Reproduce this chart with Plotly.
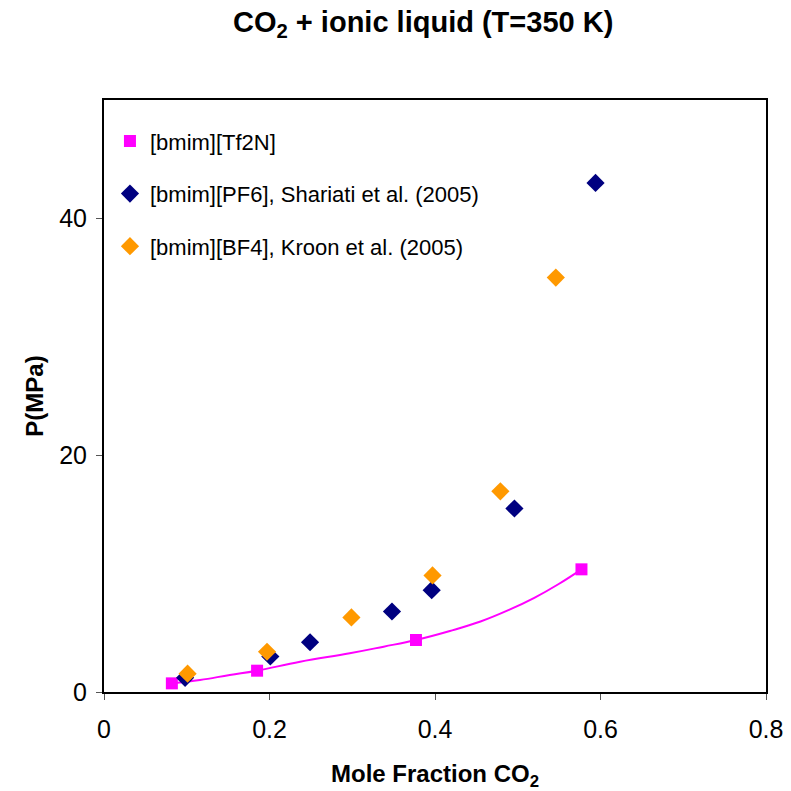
import plotly.graph_objects as go

# Data
tf2n_x = [0.082, 0.185, 0.377, 0.577]
tf2n_y = [0.73, 1.80, 4.39, 10.36]

# model curve through the [bmim][Tf2N] points
curve_x = [0.082, 0.116, 0.152, 0.185, 0.237, 0.297, 0.338, 0.377, 0.418, 0.455, 0.49, 0.52, 0.549, 0.577]
curve_y = [0.73, 1.01, 1.44, 1.80, 2.56, 3.27, 3.83, 4.39, 5.15, 5.95, 6.95, 7.95, 9.1, 10.36]

pf6_x = [0.098, 0.201, 0.249, 0.348, 0.396, 0.496, 0.594]
pf6_y = [1.2, 3.0, 4.2, 6.8, 8.6, 15.5, 43.0]

bf4_x = [0.101, 0.197, 0.299, 0.397, 0.479, 0.546]
bf4_y = [1.55, 3.4, 6.3, 9.85, 16.95, 35.0]

x_ticks = [0, 0.2, 0.4, 0.6, 0.8]
x_labels = ["0", "0.2", "0.4", "0.6", "0.8"]
y_ticks = [0, 20, 40]
y_labels = ["0", "20", "40"]

fig = go.Figure()

fig.add_trace(go.Scatter(
    x=curve_x, y=curve_y, mode="lines", line=dict(color="#FF00FF", width=2, shape="spline", smoothing=1.2),
    showlegend=False, hoverinfo="skip"))
fig.add_trace(go.Scatter(
    x=tf2n_x, y=tf2n_y, mode="markers", name="[bmim][Tf2N]", legendgroup="a",
    marker=dict(symbol="square", color="#FF00FF", size=12)))
fig.add_trace(go.Scatter(
    x=pf6_x, y=pf6_y, mode="markers", name="[bmim][PF6], Shariati et al. (2005)", legendgroup="b",
    marker=dict(symbol="diamond", color="#000080", size=14)))
fig.add_trace(go.Scatter(
    x=bf4_x, y=bf4_y, mode="markers", name="[bmim][BF4], Kroon et al. (2005)", legendgroup="c",
    marker=dict(symbol="diamond", color="#FF9900", size=14)))

fig.update_layout(
    width=791, height=791,
    margin=dict(l=104, r=25, t=100, b=99, autoexpand=False),
    paper_bgcolor="white", plot_bgcolor="white",
    font=dict(family="Arial, Liberation Sans, sans-serif", color="black"),
    title=dict(text="<b>CO<sub>2</sub> + ionic liquid (T=350 K)</b>", x=0.535, xanchor="center",
               y=0.972, yanchor="middle", font=dict(size=29)),
    showlegend=True,
    legend=dict(x=0.009, y=0.966, xanchor="left", yanchor="top", bgcolor="rgba(0,0,0,0)",
                font=dict(size=22), tracegroupgap=21, traceorder="grouped", itemwidth=30),
    xaxis=dict(range=[0, 0.8], tickvals=x_ticks, ticktext=x_labels, ticks="outside", ticklen=6,
               tickcolor="#555", tickfont=dict(size=25), showgrid=False, zeroline=False,
               ticklabelstandoff=8, automargin=False,
               showline=True, linecolor="black", linewidth=2, mirror=True,
               title=dict(text="<b>Mole Fraction CO<sub>2</sub></b>", font=dict(size=24), standoff=23)),
    yaxis=dict(range=[0, 50], tickvals=y_ticks, ticktext=y_labels, ticks="outside", ticklen=6,
               tickcolor="#555", tickfont=dict(size=25), showgrid=False, zeroline=False,
               ticklabelstandoff=4, automargin=False,
               showline=True, linecolor="black", linewidth=2, mirror=True,
               title=dict(text="<b>P(MPa)</b>", font=dict(size=24), standoff=9)),
)

fig.write_html("out.html")
